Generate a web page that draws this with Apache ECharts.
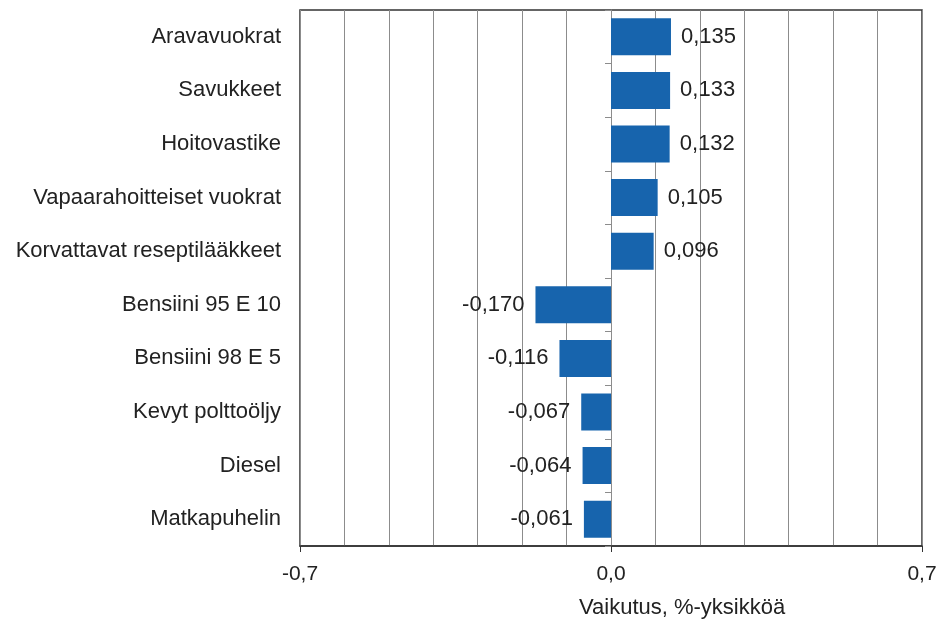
<!DOCTYPE html>
<html>
<head>
<meta charset="utf-8">
<script src="https://cdn.jsdelivr.net/npm/echarts@6/dist/echarts.min.js"></script>
<style>
  html, body { margin: 0; padding: 0; background: #fff; }
  #chart { width: 942px; height: 620px; }
</style>
</head>
<body>
<div id="chart"></div>
<script>
var categories = ['Aravavuokrat', 'Savukkeet', 'Hoitovastike', 'Vapaarahoitteiset vuokrat',
    'Korvattavat reseptilääkkeet', 'Bensiini 95 E 10', 'Bensiini 98 E 5',
    'Kevyt polttoöljy', 'Diesel', 'Matkapuhelin'];
var values = [0.135, 0.133, 0.132, 0.105, 0.096, -0.170, -0.116, -0.067, -0.064, -0.061];
var axisName = 'Vaikutus, %-yksikköä';

var font = 'Liberation Sans, Arial, sans-serif';

function fmt(v) {
    return v.toFixed(3).replace('.', ',');
}

var myChart = echarts.init(document.getElementById('chart'));

var option = {
    animation: false,
    grid: {
        left: 300, right: 20, top: 10, bottom: 74,
        show: true, borderColor: '#333', borderWidth: 1.5
    },
    xAxis: [{
        type: 'value', min: -0.7, max: 0.7, interval: 0.1,
        axisLine: { show: false },
        axisTick: { show: false },
        axisLabel: { show: false },
        splitLine: { show: true, lineStyle: { color: '#8c8c8c', width: 1 } }
    }, {
        type: 'value', min: -0.7, max: 0.7, interval: 0.7,
        position: 'bottom',
        axisLine: { show: true, onZero: false, lineStyle: { color: '#333', width: 1.5 } },
        axisTick: { show: true, length: 6, lineStyle: { color: '#333' } },
        axisLabel: {
            margin: 18, fontFamily: font, fontSize: 21, color: '#222',
            formatter: function (v) { return v.toFixed(1).replace('.', ','); }
        },
        splitLine: { show: false }
    }],
    yAxis: [{
        type: 'category', data: categories, inverse: true,
        axisLine: { show: false, onZero: false },
        axisTick: { show: false },
        axisLabel: { margin: 19, padding: [4, 0, 0, 0], fontFamily: font, fontSize: 22, color: '#222' }
    }, {
        type: 'category', data: categories, inverse: true,
        position: 'left',
        axisLine: { show: true, onZero: true, lineStyle: { color: '#8c8c8c', width: 1 } },
        axisTick: { show: true, length: 6, lineStyle: { color: '#8c8c8c' } },
        axisLabel: { show: false }
    }],
    graphic: [{
        type: 'text', left: 579, top: 597,
        style: { text: axisName, font: '22px ' + font, fill: '#222' }
    }],
    series: [{
        type: 'bar',
        xAxisIndex: 0, yAxisIndex: 0,
        barWidth: 37,
        itemStyle: { color: '#1764ad' },
        data: values.map(function (v) {
            return {
                value: v,
                label: {
                    show: true,
                    position: v >= 0 ? 'right' : 'left',
                    distance: v >= 0 ? 10 : 11,
                    padding: [4, 0, 0, 0],
                    fontFamily: font, fontSize: 22, color: '#222',
                    formatter: function (p) { return fmt(p.value); }
                }
            };
        })
    }]
};

myChart.setOption(option);
</script>
</body>
</html>
